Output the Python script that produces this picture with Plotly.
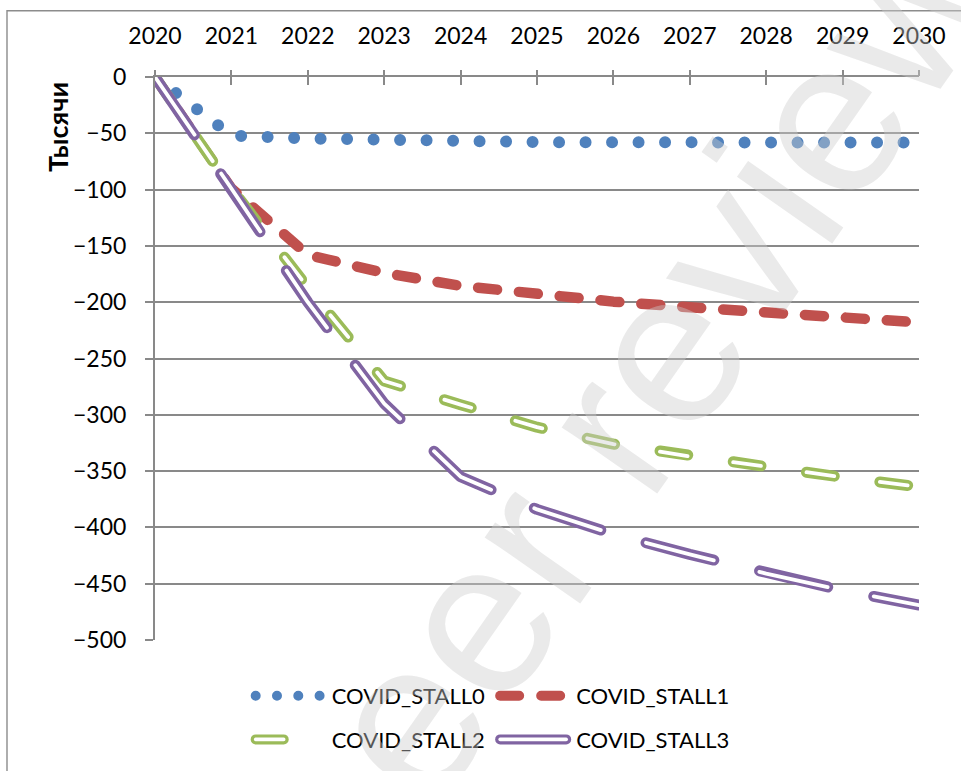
import plotly.graph_objects as go

years = [2020, 2021, 2022, 2023, 2024, 2025, 2026, 2027, 2028, 2029, 2030]
stall0 = [0, -52, -54.6, -56.4, -57.3, -57.8, -58, -58, -58.1, -58.1, -58.2]
stall1 = [0, -99, -158, -174, -185.5, -193.5, -199.5, -204.5, -209.5, -214, -218]
stall2 = [0, -99, -187, -270, -291, -311, -326, -337, -346, -355.5, -364]
stall3 = [0, -99, -200, -290, -355, -384, -406, -424, -441, -456, -469]
names = ["COVID_STALL0", "COVID_STALL1", "COVID_STALL2", "COVID_STALL3"]
y_ticks = [0, -50, -100, -150, -200, -250, -300, -350, -400, -450, -500]

FONT = "Lato, 'Open Sans', 'DejaVu Sans', sans-serif"
GRID = "#898989"

fig = go.Figure()
fig.add_trace(go.Scatter(x=years, y=stall0, name=names[0], mode="lines",
                         line=dict(color="#4F81BD", width=12, dash="0px,26.5px"),
                         legend="legend", legendgroup="g0", hoverinfo="skip"))
fig.add_trace(go.Scatter(x=years, y=stall1, name=names[1], mode="lines",
                         line=dict(color="#C0504D", width=10.5, dash="19px,22px"),
                         legend="legend2", legendgroup="g1", hoverinfo="skip"))
fig.add_trace(go.Scatter(x=years, y=stall2, name=names[2], mode="lines",
                         line=dict(color="#9BBB59", width=11, dash="28px,46px"),
                         legend="legend", legendgroup="g2", hoverinfo="skip"))
fig.add_trace(go.Scatter(x=years, y=stall2, name=names[2] + "_inner", mode="lines",
                         line=dict(color="#FFFFFF", width=3.8, dash="28px,46px"),
                         legendgroup="g2", showlegend=False, hoverinfo="skip"))
fig.add_trace(go.Scatter(x=years, y=stall3, name=names[3], mode="lines",
                         line=dict(color="#8064A2", width=11, dash="70px,47px"),
                         legend="legend2", legendgroup="g3", hoverinfo="skip"))
fig.add_trace(go.Scatter(x=years, y=stall3, name=names[3] + "_inner", mode="lines",
                         line=dict(color="#FFFFFF", width=3.8, dash="70px,47px"),
                         legendgroup="g3", showlegend=False, hoverinfo="skip"))
# carrier for the upper half of the crossing tick marks
fig.add_trace(go.Scatter(x=years, y=stall0, xaxis="x2", mode="lines", opacity=0,
                         line=dict(width=0), showlegend=False, hoverinfo="skip"))

fig.update_layout(
    width=961, height=771,
    margin=dict(l=155, r=42, t=77, b=131, autoexpand=False),
    paper_bgcolor="white", plot_bgcolor="white",
    font=dict(family=FONT, size=23, color="black"),
    xaxis=dict(range=[2020, 2030], side="top", tickvals=years, ticks="inside",
               ticklen=8, tickwidth=2, tickcolor=GRID, showline=True,
               linecolor=GRID, linewidth=2, showgrid=False, zeroline=False,
               ticklabelstandoff=22, tickfont=dict(size=23)),
    xaxis2=dict(range=[2020, 2030], side="top", overlaying="x", anchor="y",
                tickvals=years, ticks="outside", ticklen=6, tickwidth=2,
                tickcolor=GRID, showticklabels=False, showline=False,
                showgrid=False, zeroline=False),
    yaxis=dict(range=[-500, 0], tickvals=y_ticks, ticks="outside", ticklen=8,
               tickwidth=2, tickcolor=GRID, showline=True, linecolor=GRID,
               linewidth=2, showgrid=True, gridcolor=GRID, gridwidth=1.6,
               zeroline=False, ticklabelstandoff=14, tickfont=dict(size=23)),
    legend=dict(x=0.2567, y=0.1245, xref="container", yref="container",
                xanchor="left", yanchor="top",
                orientation="v", bgcolor="rgba(0,0,0,0)", font=dict(size=22),
                itemwidth=75, tracegroupgap=12, traceorder="grouped"),
    legend2=dict(x=0.5111, y=0.1245, xref="container", yref="container",
                 xanchor="left", yanchor="top",
                 orientation="v", bgcolor="rgba(0,0,0,0)", font=dict(size=22),
                 itemwidth=75, tracegroupgap=12, traceorder="grouped"),
    showlegend=True,
)

fig.add_annotation(text="<b>Тысячи</b>", xref="paper", yref="paper",
                   x=(57.5 - 155) / 764, y=(640 - 127.5) / 563,
                   xanchor="center", yanchor="middle", textangle=-90,
                   showarrow=False, font=dict(size=27, color="black", family=FONT))

fig.add_annotation(text="peer review", xref="paper", yref="paper",
                   x=(625 - 155) / 764, y=(640 - 407) / 563,
                   xanchor="center", yanchor="middle", textangle=-55,
                   showarrow=False,
                   font=dict(size=220, color="rgba(205,205,205,0.42)",
                             family="'Liberation Sans', Arial, sans-serif"))

fig.add_shape(type="rect", xref="paper", yref="paper",
              x0=(7 - 155) / 764, x1=1.2, y0=-0.4, y1=(640 - 10.7) / 563,
              line=dict(color="#8c8c8c", width=1.4), fillcolor="rgba(0,0,0,0)",
              layer="below")

post = """
(function(){
var gd = document.getElementById('{plot_id}');
document.body.style.margin = '0';
document.body.style.overflow = 'hidden';
var st = document.createElement('style');
st.textContent = 'path.js-line{stroke-linecap:round !important;stroke-linejoin:round !important;}';
document.head.appendChild(st);
var items = gd.querySelectorAll('g.traces');
items.forEach(function(it){
  var d = it.__data__;
  if(!d || !d[0] || !d[0].trace) return;
  var tr = d[0].trace;
  var path = it.querySelector('path.js-line');
  if(!path) return;
  var txt = it.querySelector('text.legendtext');
  var tx = txt ? parseFloat(txt.getAttribute('x')) : 85;
  if(isNaN(tx)) tx = 85;
  var len = tr.name === 'COVID_STALL0' ? 64 : 66;
  path.setAttribute('d', 'M' + (tx - 76) + ',0h' + len);
  if(tr.name === 'COVID_STALL0') path.style.strokeDasharray = '0px,21.3px';
  if(tr.name === 'COVID_STALL2' || tr.name === 'COVID_STALL3'){
    path.style.strokeWidth = '10px';
    var c = path.cloneNode(true);
    c.style.stroke = '#ffffff';
    c.style.strokeWidth = '3.6px';
    path.parentNode.appendChild(c);
  }
});
})();
"""

fig.write_html("out.html", post_script=post, config={"displayModeBar": False})
